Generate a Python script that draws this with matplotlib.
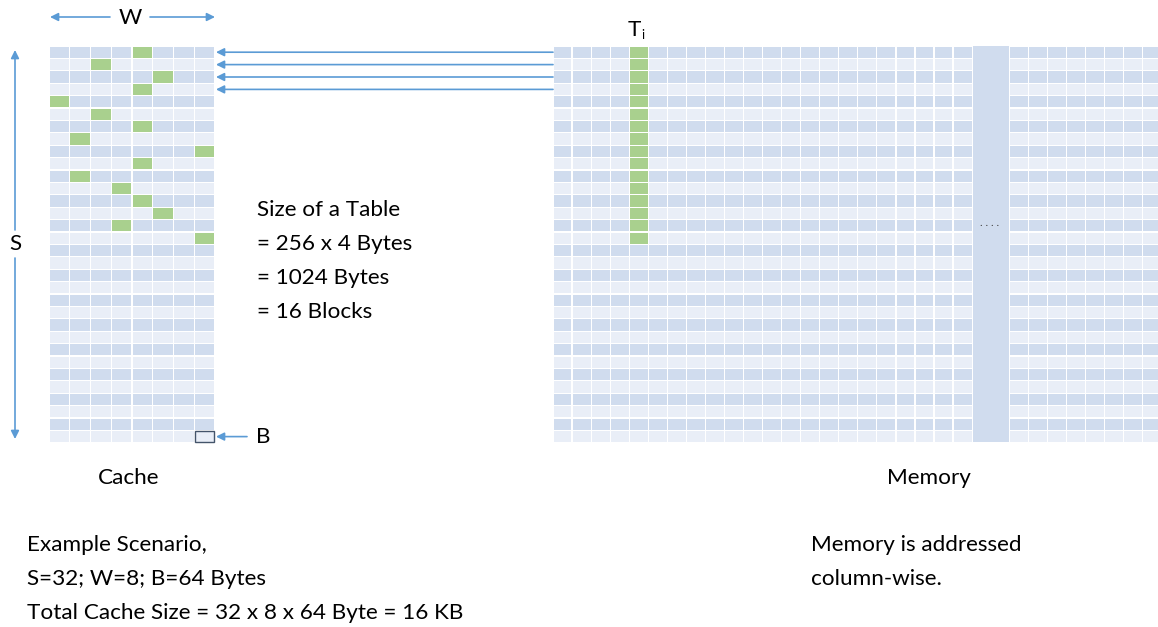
import matplotlib
matplotlib.use("Agg")
import matplotlib.pyplot as plt
from matplotlib.patches import Rectangle

# cache: S sets x W ways, green = blocks of one table
n_sets = 32
n_ways = 8
table_way = [4, 2, 5, 4, 0, 2, 4, 1, 7, 4, 1, 3, 4, 5, 3, 7]  # way used by set 0..15

# memory: columns before/after the "...." gap, table column index
mem_cols_left = 22
mem_cols_right = 8
table_col = 4
table_blocks = 16

table_text = ["Size of a Table", "= 256 x 4 Bytes", "= 1024 Bytes", "= 16 Blocks"]
scenario_text = ["Example Scenario,", "S=32; W=8; B=64 Bytes",
                 "Total Cache Size = 32 x 8 x 64 Byte = 16 KB"]
memory_text = ["Memory is addressed", "column-wise."]

DARK = "#D0DCEE"
LIGHT = "#E9EEF7"
GREEN = "#A9D08E"
BLUE = "#5B9BD5"
FONT = "Lato"
FS = 16.2

fig = plt.figure(figsize=(11.58, 6.27), dpi=100)
ax = fig.add_axes([0, 0, 1, 1])
ax.set_xlim(0, 1158)
ax.set_ylim(627, 0)
ax.axis("off")

top = 46
row_h = 12.4
gap = 1.2


def cell(x, y, w, h, color):
    ax.add_patch(Rectangle((x + gap / 2, y + gap / 2), w - gap, h - gap,
                           facecolor=color, edgecolor="none"))


# cache grid
cx0, cw = 49, 20.75
for s in range(n_sets):
    y = top + s * row_h
    for w in range(n_ways):
        color = DARK if s % 2 == 0 else LIGHT
        if s < len(table_way) and table_way[s] == w:
            color = GREEN
        cell(cx0 + w * cw, y, cw, row_h, color)

# memory grid
mx0, mw = 553, 19.05
gap_x = mx0 + mem_cols_left * mw
gap_w = 37
for s in range(n_sets):
    y = top + s * row_h
    for c in range(mem_cols_left + mem_cols_right):
        if c < mem_cols_left:
            x = mx0 + c * mw
        else:
            x = gap_x + gap_w + (c - mem_cols_left) * mw
        color = DARK if s % 2 == 0 else LIGHT
        if c == table_col and s < table_blocks:
            color = GREEN
        cell(x, y, mw, row_h, color)
ax.add_patch(Rectangle((gap_x + gap / 2, top), gap_w - gap, n_sets * row_h - gap,
                       facecolor=DARK, edgecolor="none"))
ax.text(gap_x + gap_w / 2 - 1, 222, ". . . .", ha="center", va="center",
        fontsize=8, color="#444444", family=FONT)

arrow = dict(arrowstyle="-|>", color=BLUE, lw=1.2, mutation_scale=12,
             shrinkA=0, shrinkB=0)

# arrows from memory to cache sets
for s in range(4):
    y = top + (s + 0.5) * row_h
    ax.annotate("", xy=(216, y), xytext=(mx0, y), arrowprops=arrow)

# W
ax.annotate("", xy=(50, 17), xytext=(110, 17), arrowprops=arrow)
ax.annotate("", xy=(215, 17), xytext=(150, 17), arrowprops=arrow)
ax.text(130, 18, "W", ha="center", va="center", fontsize=FS, family=FONT)

# S
ax.annotate("", xy=(15, 50), xytext=(15, 230), arrowprops=arrow)
ax.annotate("", xy=(15, 439), xytext=(15, 258), arrowprops=arrow)
ax.text(15, 244, "S", ha="center", va="center", fontsize=FS, family=FONT)

# B
by = top + (n_sets - 1) * row_h
ax.add_patch(Rectangle((cx0 + 7 * cw + 0.5, by + 0.5), cw - 1.5, row_h - 1.5,
                       facecolor=LIGHT, edgecolor="#44546A", lw=1))
ax.annotate("", xy=(cx0 + 8 * cw + 1, by + row_h / 2), xytext=(247, by + row_h / 2),
            arrowprops=arrow)
ax.text(256, 437, "B", ha="left", va="center", fontsize=FS, family=FONT)

# T_i
tx = mx0 + (table_col + 0.5) * mw
ax.text(tx + 2, 30, "T", ha="right", va="center", fontsize=FS, family=FONT)
ax.text(tx + 3, 35, "i", ha="left", va="center", fontsize=9, family=FONT)

for i, line in enumerate(table_text):
    ax.text(257, 210 + i * 34, line, ha="left", va="center", fontsize=FS, family=FONT)

ax.text(129, 478, "Cache", ha="center", va="center", fontsize=FS, family=FONT)
ax.text(929, 478, "Memory", ha="center", va="center", fontsize=FS, family=FONT)

for i, line in enumerate(scenario_text):
    ax.text(27, 545 + i * 34, line, ha="left", va="center", fontsize=FS, family=FONT)
for i, line in enumerate(memory_text):
    ax.text(811, 545 + i * 34, line, ha="left", va="center", fontsize=FS, family=FONT)

fig.savefig("out.png", dpi=100)
